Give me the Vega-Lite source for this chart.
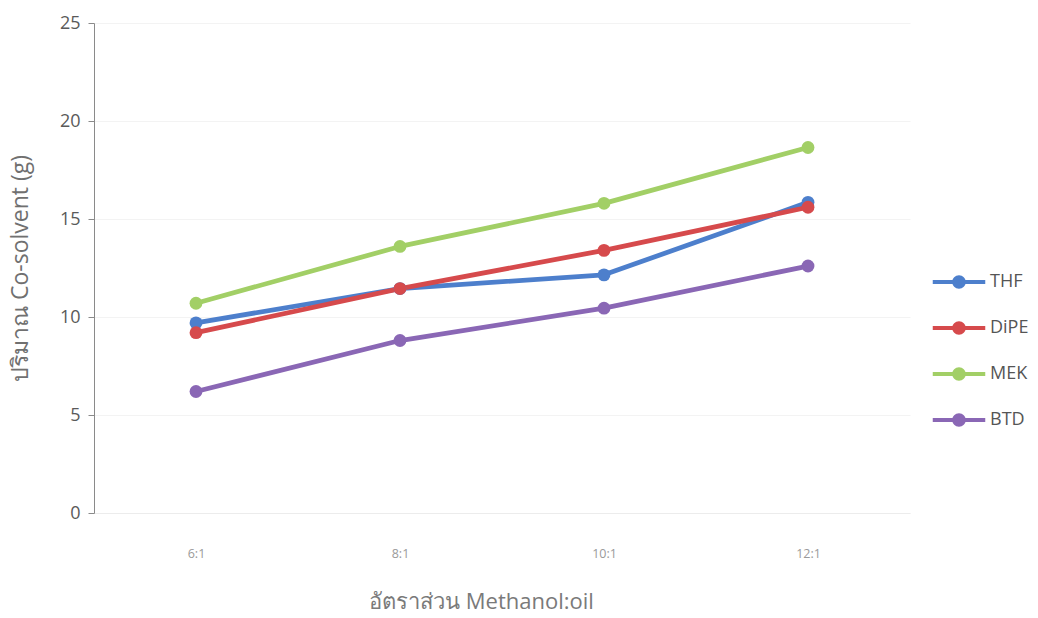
{
  "$schema": "https://vega.github.io/schema/vega-lite/v6.json",
  "autosize": {"type": "none"},
  "width": 816,
  "height": 490,
  "padding": {"left": 94, "top": 23, "right": 128, "bottom": 105},
  "background": "white",
  "config": {
    "font": "Open Sans",
    "view": {"stroke": null}
  },
  "data": {
    "values": [
      {"ratio": "6:1", "solvent": "THF", "amount": 9.7},
      {"ratio": "8:1", "solvent": "THF", "amount": 11.45},
      {"ratio": "10:1", "solvent": "THF", "amount": 12.15},
      {"ratio": "12:1", "solvent": "THF", "amount": 15.85},
      {"ratio": "6:1", "solvent": "DiPE", "amount": 9.2},
      {"ratio": "8:1", "solvent": "DiPE", "amount": 11.45},
      {"ratio": "10:1", "solvent": "DiPE", "amount": 13.4},
      {"ratio": "12:1", "solvent": "DiPE", "amount": 15.6},
      {"ratio": "6:1", "solvent": "MEK", "amount": 10.7},
      {"ratio": "8:1", "solvent": "MEK", "amount": 13.6},
      {"ratio": "10:1", "solvent": "MEK", "amount": 15.8},
      {"ratio": "12:1", "solvent": "MEK", "amount": 18.65},
      {"ratio": "6:1", "solvent": "BTD", "amount": 6.2},
      {"ratio": "8:1", "solvent": "BTD", "amount": 8.8},
      {"ratio": "10:1", "solvent": "BTD", "amount": 10.45},
      {"ratio": "12:1", "solvent": "BTD", "amount": 12.6}
    ]
  },
  "encoding": {
    "x": {
      "field": "ratio",
      "type": "ordinal",
      "sort": ["6:1", "8:1", "10:1", "12:1"],
      "scale": {"type": "point", "padding": 0.5},
      "axis": {
        "title": "อัตราส่วน Methanol:oil",
        "labelAngle": 0,
        "labelFontSize": 12.5,
        "labelColor": "#9a9a9a",
        "labelPadding": 34,
        "ticks": false,
        "domainColor": "#ececec",
        "titleFontSize": 22,
        "titleFontWeight": "normal",
        "titleColor": "#7a7a7a",
        "titlePadding": 32,
        "titleX": 387
      }
    },
    "y": {
      "field": "amount",
      "type": "quantitative",
      "scale": {"domain": [0, 25], "nice": false},
      "axis": {
        "title": "ปริมาณ Co-solvent (g)",
        "values": [0, 5, 10, 15, 20, 25],
        "labelFontSize": 18,
        "labelColor": "#5a5a5a",
        "labelPadding": 8,
        "tickSize": 6,
        "tickColor": "#8a8a8a",
        "domainColor": "#8a8a8a",
        "gridColor": "#f3f3f3",
        "titleFontSize": 23,
        "titleFontWeight": "normal",
        "titleColor": "#707070",
        "titlePadding": 27
      }
    },
    "color": {
      "field": "solvent",
      "type": "nominal",
      "scale": {
        "domain": ["THF", "DiPE", "MEK", "BTD"],
        "range": ["#4d7fcc", "#d64a4c", "#a2cf66", "#8a67b5"]
      },
      "legend": {
        "title": null,
        "orient": "none",
        "legendX": 856,
        "legendY": 250,
        "symbolType": "M-3.5,-0.27H3.5V0.27H-3.5Z M0,-0.9A0.9,0.9,0,1,1,0,0.9A0.9,0.9,0,1,1,0,-0.9Z",
        "symbolSize": 225,
        "symbolStrokeWidth": 0,
        "labelFontSize": 18,
        "labelColor": "#555555",
        "labelOffset": 22,
        "rowPadding": 28,
        "encode": {
          "symbols": {
            "update": {
              "fill": {"scale": "color", "field": "value"},
              "stroke": {"value": "transparent"},
              "opacity": {"value": 1}
            }
          }
        }
      }
    }
  },
  "layer": [
    {
      "mark": {"type": "line", "strokeWidth": 4.8, "strokeCap": "round", "strokeJoin": "round"}
    },
    {
      "mark": {"type": "circle", "size": 165, "opacity": 1}
    }
  ]
}
